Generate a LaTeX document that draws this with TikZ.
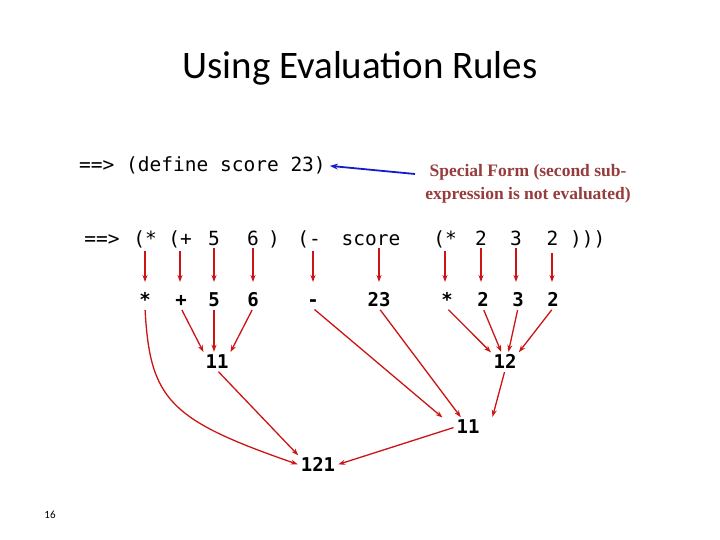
\documentclass[tikz,border=0pt]{standalone}
\usepackage{fontspec}
\setmainfont{Carlito}
\setmonofont{DejaVu Sans Mono}
\newfontfamily\notefont{Liberation Serif}
\usetikzlibrary{positioning, arrows.meta}
\definecolor{arrowred}{RGB}{204,20,20}
\definecolor{notebrown}{RGB}{150,60,60}
\definecolor{arrowblue}{RGB}{20,30,200}
\begin{document}
\begin{tikzpicture}[x=1pt, y=-1pt,
  code/.style={font=\ttfamily\fontsize{19.5}{22}\selectfont, inner sep=1pt, anchor=base},
  val/.style={font=\ttfamily\bfseries\fontsize{19}{22}\selectfont, inner sep=1pt, text height=13pt, text depth=1pt},
  eval/.style={-{Stealth[length=7pt, width=5pt]}, arrowred, line width=1.3pt, shorten >=2pt, shorten <=2pt}]

% Canvas
\useasboundingbox (0, 0) rectangle (720, 540);

% Title
\node (title) at (360, 68) {\fontsize{39}{44}\selectfont Using Evaluation Rules};

% Define line
\node[code, anchor=base west] (define) at (78, 172) {==> (define score 23)};
\node[font=\notefont\bfseries\fontsize{17.5}{23}\selectfont, text=notebrown, align=center] (note) at (528, 184) {Special Form (second sub-\\expression is not evaluated)};
\coordinate (noteend) at (415, 174);
\draw[-{Stealth[length=8pt, width=6pt]}, arrowblue, line width=1.8pt] (noteend) -- ([xshift=3pt]define.east);

% Expression line
\node[code] (prompt) at (102, 245) {==>};
\node[code] (op1) at (145, 245) {(*};
\node[code] (op2) at (180, 245) {(+};
\node[code] (n5) at (214, 245) {5};
\node[code] (n6) at (253, 245) {6};
\node[code] (close1) at (274, 245) {)};
\node[code] (op3) at (309, 245) {(-};
\node[code] (score) at (371, 245) {score};
\node[code] (op4) at (445, 245) {(*};
\node[code] (m2a) at (481, 245) {2};
\node[code] (m3) at (516, 245) {3};
\node[code] (m2b) at (576, 245) {2 )))};

% Evaluated sub-expressions
\node[val] (v1) at (145, 300) {*};
\node[val] (v2) at (181, 300) {+};
\node[val] (v3) at (214, 300) {5};
\node[val] (v4) at (253, 300) {6};
\node[val] (v5) at (313, 300) {-};
\node[val] (v6) at (379, 300) {23};
\node[val] (v7) at (447, 300) {*};
\node[val] (v8) at (483, 300) {2};
\node[val] (v9) at (518, 300) {3};
\node[val] (v10) at (553, 300) {2};

\coordinate (m2bx) at (552, 251);
\foreach \a/\b in {op1/v1, op2/v2, n5/v3, n6/v4, op4/v7, m2a/v8, m3/v9}
  \draw[eval] (\a.south) -- (\a.south |- 0,284);
\draw[eval] (op3.south -| v5) -- (v5 |- 0,284);
\draw[eval] (score.south -| v6) -- (v6 |- 0,284);
\draw[eval] (m2bx) -- (552, 284);

% Applications
\node[val] (r11) at (217, 362) {11};
\node[val] (r12) at (505, 362) {12};
\node[val] (r11b) at (468, 427) {11};
\node[val] (r121) at (318, 465) {121};

\draw[eval] (v2.south) -- (r11.north west);
\draw[eval] (v3.south) -- (r11.north -| v3);
\draw[eval] (v4.south) -- (r11.north east);
\draw[eval] (v7.south) -- (r12.north west);
\draw[eval] (v8.south) -- ([xshift=-3pt]r12.north);
\draw[eval] (v9.south) -- ([xshift=3pt]r12.north);
\draw[eval] (v10.south) -- (r12.north east);
\draw[eval] (v5.south) -- ([xshift=-24pt]r11b.north);
\draw[eval] (v6.south) -- ([xshift=-6pt]r11b.north);
\draw[eval] (r12.south) -- ([xshift=24pt]r11b.north);
\draw[eval] (r11.south) -- (r121.north west);
\draw[eval] (v1.south) .. controls (150, 400) and (170, 420) .. (r121.west);
\draw[eval] (r11b.west) -- (r121.east);

% Slide number
\node[font=\fontsize{11}{13}\selectfont] (page) at (50, 515) {16};

\end{tikzpicture}
\end{document}
